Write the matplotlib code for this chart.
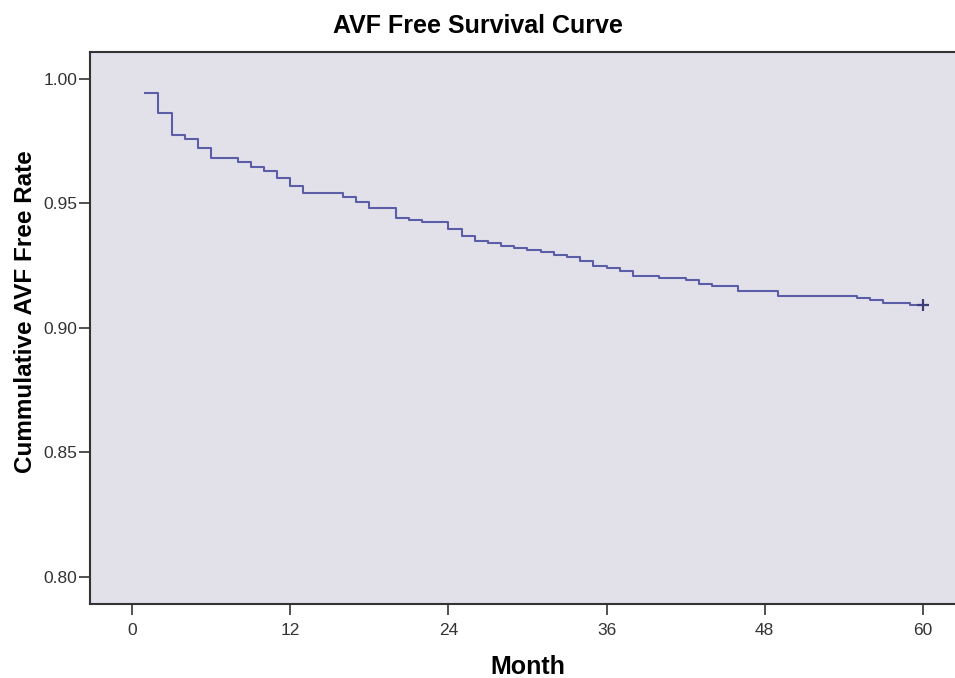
import matplotlib.pyplot as plt
from matplotlib import font_manager

# Kaplan-Meier steps (month, cumulative AVF free rate)
months = [1, 2, 3, 4, 5, 6, 8, 9, 10, 11, 12, 13, 16, 17, 18, 20, 21, 22,
          24, 25, 26, 27, 28, 29, 30, 31, 32, 33, 34, 35, 36, 37, 38, 40,
          42, 43, 44, 46, 49, 55, 56, 57, 59, 60]
survival = [0.9943, 0.9862, 0.9775, 0.9758, 0.9722, 0.9684, 0.9665, 0.9645,
            0.9628, 0.9601, 0.9570, 0.9543, 0.9527, 0.9507, 0.9481, 0.9443,
            0.9434, 0.9424, 0.9396, 0.9367, 0.9349, 0.9340, 0.9329, 0.9320,
            0.9313, 0.9304, 0.9293, 0.9284, 0.9269, 0.9249, 0.9240, 0.9230,
            0.9209, 0.9201, 0.9193, 0.9176, 0.9166, 0.9146, 0.9129, 0.9119,
            0.9110, 0.9099, 0.9090, 0.9090]
censor_month = [60]
censor_value = [0.9090]

x_ticks = [0, 12, 24, 36, 48, 60]
y_ticks = [0.80, 0.85, 0.90, 0.95, 1.00]

names = {f.name for f in font_manager.fontManager.ttflist}
narrow = "Liberation Sans Narrow" if "Liberation Sans Narrow" in names else "Liberation Sans"
plt.rcParams["font.family"] = ["Liberation Sans", "DejaVu Sans"]

fig = plt.figure(figsize=(9.55, 6.78), dpi=100)
# right edge of the frame runs off the picture, as in the reference
ax = fig.add_axes([0.0942, 0.1091, 0.9080, 0.8142])
ax.set_facecolor("#e2e1ea")

ax.step(months, survival, where="post", color="#5b5ea6", linewidth=1.5)
ax.plot(censor_month, censor_value, marker="+", color="#3c3d7a",
        markersize=9, markeredgewidth=1.6, linestyle="none")

ax.set_xlim(-3.2, 62.6)
ax.set_ylim(0.789, 1.0108)
ax.set_xticks(x_ticks)
ax.set_xticklabels([str(t) for t in x_ticks], family=narrow, fontsize=12.5)
ax.set_yticks(y_ticks)
ax.set_yticklabels([f"{t:.2f}" for t in y_ticks], fontsize=12.5)
ax.tick_params(axis="y", pad=1)
ax.tick_params(axis="x", pad=6)
ax.tick_params(direction="out", length=8, width=1.2, color="#333333",
               labelcolor="#333333")
for s in ax.spines.values():
    s.set_color("#333333")
    s.set_linewidth(1.5)

# title is centred on the whole picture, not on the plot box
fig.text(0.5, 0.962, "AVF Free Survival Curve", fontsize=18,
         fontweight="bold", ha="center", va="center")
ax.set_xlabel("Month", fontsize=18, fontweight="bold")
ax.xaxis.set_label_coords(0.505, -0.093)
ax.set_ylabel("Cummulative AVF Free Rate", fontsize=17.5, fontweight="bold")
ax.yaxis.set_label_coords(-0.061, 0.53)

fig.savefig("out.png", dpi=100)
